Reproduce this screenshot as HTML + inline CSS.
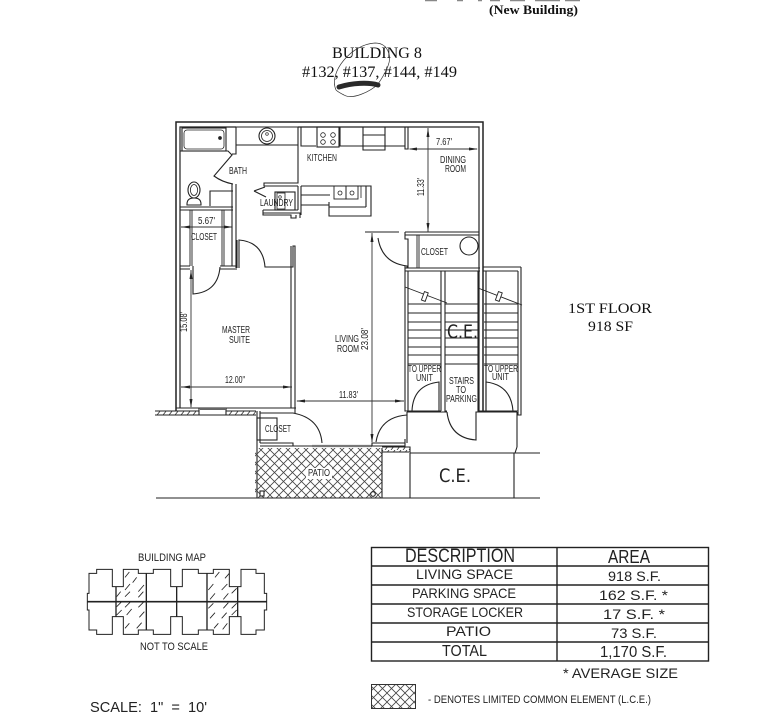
<!DOCTYPE html>
<html><head><meta charset="utf-8"><style>
html,body{margin:0;padding:0;background:#fff;width:777px;height:720px;overflow:hidden}
svg{display:block}
text{font-family:"Liberation Sans",sans-serif;fill:#222;font-size:10px}
.s{font-family:"Liberation Serif",serif;fill:#111}
.l{font-size:19px;font-family:"DejaVu Sans","Liberation Sans",sans-serif}
</style></head><body>
<svg width="777" height="720" viewBox="0 0 777 720" xmlns="http://www.w3.org/2000/svg">
<defs>
<pattern id="x" width="9" height="9" patternUnits="userSpaceOnUse"><path d="M0 0L9 9M9 0L0 9" stroke="#444" stroke-width=".8" fill="none"/></pattern>
<pattern id="h" width="6" height="5" patternUnits="userSpaceOnUse"><path d="M1 5L5 0" stroke="#333" stroke-width=".8"/></pattern>
</defs>
<rect width="777" height="720" fill="#fff"/>
<path d="M425 .6H437M457 .6H463M478 .6H482M490 .6H500M510 .6H525M535 .6H560M565 .6H580" stroke="#888" stroke-width="1.2"/>
<text class="s" x="489" y="14" font-weight="700" style="font-size:13px" textLength="89" lengthAdjust="spacingAndGlyphs">(New Building)</text>
<text class="s" x="332" y="58" style="font-size:16px" textLength="90" lengthAdjust="spacingAndGlyphs">BUILDING 8</text>
<text class="s" x="302" y="77" style="font-size:16px" textLength="155" lengthAdjust="spacingAndGlyphs">#132, #137, #144, #149</text>
<path d="M336 90C328 72 352 44 375 43C388 43 392 56 388 66C385 74 382 78 378 84C370 92 352 100 344 95C340 93 338 92 336 90" fill="none" stroke="#333" stroke-width=".7"/>
<path d="M339 87C352 83 368 82 378 85" fill="none" stroke="#2a2a2a" stroke-width="5" stroke-linecap="round"/>

<g fill="none" stroke="#222" stroke-width="1.1">
<!-- outer walls -->
<path d="M176 411V122H483V411" stroke-width="1.5"/>
<path d="M180 408V127H236M298 127H479V411" stroke-width="1.2"/>
<path d="M176 408H296"/>
<!-- tub -->
<rect x="182" y="128" width="44" height="23"/><rect x="184" y="130" width="40" height="19" rx="3" stroke-width=".8"/>
<circle cx="220" cy="138" r="1.3" fill="#222"/>
<!-- bath -->
<path d="M180 151H228L232 155L214 176Q222 182 233 184"/>
<path d="M236 127V154H232M298 127V183H264V186H298"/>
<path d="M301 127V146H316M236 145H298M236 127H298"/>
<circle cx="267" cy="136" r="8"/><circle cx="267" cy="136" r="5.5" stroke-width=".8"/><circle cx="267" cy="134" r="1.3" stroke-width=".7"/>
<!-- toilet -->
<ellipse cx="194" cy="190" rx="6" ry="8"/><ellipse cx="194" cy="190" rx="3.6" ry="5.5" stroke-width=".8"/><path d="M187 204Q187 198 194 198Q201 198 201 204V205H187Z"/>
<path d="M210 206V191H233"/>
<!-- partition -->
<path d="M232 184V266M236 184V268"/>
<path d="M180 207H233M180 210H233"/>
<path d="M180 266H190M220 266H237M180 269H190M220 269H237"/>
<path d="M190 210V266M192 210V266M222 210V266M224 210V266" stroke-width=".9"/>
<path d="M193 266V294Q218 292 220 267"/>
<!-- laundry -->
<path d="M254 191L265 187M254 191L266 197"/>
<rect x="275" y="192" width="20" height="18"/><rect x="277" y="193" width="8" height="16" stroke-width=".8"/><circle cx="280" cy="197" r="1.3" stroke-width=".7"/>
<path d="M263 213H300V218M263 210H298M263 210V215H291V218H296V215"/>
<path d="M298 186V210M301 186V215"/>
<!-- kitchen -->
<rect x="317" y="127" width="22" height="20"/>
<circle cx="323" cy="135" r="2.3" stroke-width=".8"/><circle cx="333" cy="135" r="2.3" stroke-width=".8"/><circle cx="323" cy="142" r="2.3" stroke-width=".8"/><circle cx="333" cy="142" r="2.3" stroke-width=".8"/>
<path d="M340 127V146H363M363 127V150H385V127M363 135H385M363 146H385M385 146H405"/>
<path d="M405 127V149H408V127"/>
<!-- counter -->
<path d="M301 186H371V216H329V202M301 195H330M301 205H329M329 207H366M366 186V207"/>
<rect x="334" y="186" width="12" height="13" stroke-width=".9"/><rect x="346" y="186" width="12" height="13" stroke-width=".9"/><circle cx="340" cy="193" r="2" stroke-width=".8"/><circle cx="352" cy="193" r="2" stroke-width=".8"/>
<path d="M361 186V198" stroke-width=".8"/>
<!-- dining/closet -->
<path d="M405 232H479M405 235H479M405 235V239H408V268M405 239V232"/>
<path d="M417 235V268M419 235V268" stroke-width=".9"/>
<circle cx="469" cy="246" r="9"/>
<path d="M378 238Q382 263 407 266V268"/>
<path d="M365 232H399" stroke-width=".9"/>
<path d="M405 268H480M405 271H480"/>
<!-- stair block -->
<path d="M405 266V411H408V271M441 271V411M445 271V411H447M478 271V411H482M486 271V411M521 267V415H518V271M483 267H521M483 271H518"/>
<path d="M408 304H441M445 304H478M484 304H518M408 313H441M445 313H478M484 313H518M408 322H441M445 322H478M484 322H518M408 330H441M445 330H478M484 330H518M408 338H441M445 338H478M484 338H518M408 347H441M445 347H478M484 347H518M408 355H441M445 355H478M484 355H518M408 364H441M445 364H478M484 364H518"/>
<path d="M405 287L447 303M478 288L522 305" stroke-width=".9"/>
<rect x="423" y="292" width="4" height="9" transform="rotate(20 425 296)" fill="#fff" stroke-width=".9"/>
<rect x="497" y="292" width="4" height="9" transform="rotate(20 499 296)" fill="#fff" stroke-width=".9"/>
<!-- stair doors -->
<path d="M412 411Q413 385 439 382V411M441 411H408M486 411V382Q511 385 513 411M518 411H482"/>
<path d="M447 412Q450 438 476 440V412H482"/>
<path d="M407 412H447M476 412H517M517 412V447M407 412V443M517 447L515 453"/>
<!-- master -->
<path d="M239 268V240Q263 242 265 267H293V246H295V413"/>
<path d="M291 246V408"/>
<path d="M237 240V268"/>
<!-- bottom wall -->
<path d="M155 415H199M226 415H256M155 411H199M226 411H256"/>
<path d="M199 408V415H226V408"/>
<rect x="155" y="411" width="44" height="4" fill="url(#h)" stroke="none"/><rect x="226" y="411" width="30" height="4" fill="url(#h)" stroke="none"/>
<path d="M200 409H226" stroke="#666" stroke-width="2"/>
<path d="M257 411V498M260 411V443"/>
<path d="M260 413H293Q320 418 322 443"/>
<rect x="257" y="418" width="20" height="22"/>
<path d="M260 443H293V446H322M260 446H293"/>
<path d="M312 446H372" stroke="#777" stroke-width="2.2"/>
<path d="M372 443H405V446H372ZM405 443V439"/>
<path d="M376 442Q380 417 407 415"/>
<!-- patio -->
<rect x="255" y="448" width="127" height="50" fill="url(#x)" stroke="none"/>
<rect x="382" y="447" width="28" height="5" fill="url(#h)" stroke="none"/>
<path d="M382 447H410V452H382M382 448V498"/>
<circle cx="373" cy="494" r="2.3" fill="#fff"/>
<rect x="260" y="491" width="4" height="5" fill="#fff"/>
<!-- CE -->
<path d="M156 498H540M410 453H540M410 453V498M514 453V498"/>
</g>
<!-- dims -->
<g fill="none" stroke="#333" stroke-width=".9">
<path d="M410 149H477M428 128V232M181 227H232M191 270V407M181 387H292M297 401H404M372 233V442"/>
</g>
<g fill="#222">
<path d="M408 149l9-1.5v3zM478 149l-9-1.5v3zM428 128l-1.5 9h3zM428 232l-1.5-9h3zM181 227l9-1.5v3zM233 227l-9-1.5v3zM191 270l-1.5 9h3zM191 408l-1.5-9h3zM181 387l9-1.5v3zM292 387l-9-1.5v3zM296 401l9-1.5v3zM404 401l-9-1.5v3zM372 233l-1.5 9h3zM372 443l-1.5-9h3z"/>
</g>
<!-- labels -->
<g>
<text x="307" y="161" textLength="30" lengthAdjust="spacingAndGlyphs">KITCHEN</text>
<text x="229" y="174" textLength="18" lengthAdjust="spacingAndGlyphs">BATH</text>
<text x="260" y="206" textLength="33" lengthAdjust="spacingAndGlyphs">LAUNDRY</text>
<text x="198" y="224" textLength="17" lengthAdjust="spacingAndGlyphs">5.67'</text>
<text x="191" y="240" textLength="26" lengthAdjust="spacingAndGlyphs">CLOSET</text>
<text x="436" y="145" textLength="16" lengthAdjust="spacingAndGlyphs">7.67'</text>
<text x="440" y="163" textLength="26" lengthAdjust="spacingAndGlyphs">DINING</text>
<text x="445" y="172" textLength="21" lengthAdjust="spacingAndGlyphs">ROOM</text>
<text transform="translate(424 196) rotate(-90)" textLength="18" lengthAdjust="spacingAndGlyphs">11.33'</text>
<text x="421" y="255" textLength="27" lengthAdjust="spacingAndGlyphs">CLOSET</text>
<text transform="translate(187 332) rotate(-90)" textLength="20" lengthAdjust="spacingAndGlyphs">15.08'</text>
<text x="222" y="333" textLength="28" lengthAdjust="spacingAndGlyphs">MASTER</text>
<text x="229" y="343" textLength="21" lengthAdjust="spacingAndGlyphs">SUITE</text>
<text x="225" y="383" textLength="20" lengthAdjust="spacingAndGlyphs">12.00"</text>
<text x="335" y="342" textLength="24" lengthAdjust="spacingAndGlyphs">LIVING</text>
<text x="337" y="352" textLength="22" lengthAdjust="spacingAndGlyphs">ROOM</text>
<text transform="translate(368 350) rotate(-90)" textLength="22" lengthAdjust="spacingAndGlyphs">23.08'</text>
<text x="339" y="398" textLength="19" lengthAdjust="spacingAndGlyphs">11.83'</text>
<text x="265" y="432" textLength="26" lengthAdjust="spacingAndGlyphs">CLOSET</text>
<rect x="306" y="468" width="26" height="11" fill="#fff"/>
<text x="308" y="476" textLength="22" lengthAdjust="spacingAndGlyphs">PATIO</text>
<text class="l" x="447" y="338" textLength="31" lengthAdjust="spacingAndGlyphs">C.E.</text>
<text class="l" x="439" y="482" textLength="32" lengthAdjust="spacingAndGlyphs">C.E.</text>
<text x="408" y="372" textLength="33" lengthAdjust="spacingAndGlyphs">TO UPPER</text>
<text x="416" y="381" textLength="17" lengthAdjust="spacingAndGlyphs">UNIT</text>
<text x="484" y="372" textLength="34" lengthAdjust="spacingAndGlyphs">TO UPPER</text>
<text x="492" y="380" textLength="17" lengthAdjust="spacingAndGlyphs">UNIT</text>
<text x="449" y="384" textLength="25" lengthAdjust="spacingAndGlyphs">STAIRS</text>
<text x="456" y="393" textLength="10" lengthAdjust="spacingAndGlyphs">TO</text>
<text x="446" y="402" textLength="31" lengthAdjust="spacingAndGlyphs">PARKING</text>
<text class="s" x="568" y="313" style="font-size:15px" textLength="84" lengthAdjust="spacingAndGlyphs">1ST FLOOR</text>
<text class="s" x="588" y="331" style="font-size:15px" textLength="45" lengthAdjust="spacingAndGlyphs">918 SF</text>
</g>
<!-- Building map -->
<g transform="translate(70 540) scale(.33333)" fill="none" stroke="#222" stroke-width="3">
<path d="M57 100H80V88H127V140H160V88H205V100H250V88H302V140H337V88H385V100H430V88H478V140H513V88H558V100H583V160H590V210H583V270H558V283H513V230H478V283H430V270H385V283H337V230H302V283H250V270H205V283H160V230H127V283H80V270H57V210H52V160H57Z"/>
<path d="M138 140V230M229 100V270M320 140V230M411 100V270M503 140V230" stroke-width="4"/>
<path d="M52 185H590" stroke-width="5"/>
<path stroke-width="2.5" d="M165 112L178 96M200 112L188 128M165 150L180 132M205 155L222 135M165 170L180 155M205 172L220 155M140 170L152 155M140 200L155 185M165 202L180 187M205 202L222 185M140 225L155 210M170 225L185 207M208 232L223 215M165 265L178 250M200 265L215 248M435 112L448 96M465 115L478 100M415 150L430 132M455 150L472 132M485 160L500 145M420 178L435 160M460 178L475 160M415 205L430 190M460 205L475 188M485 205L500 190M420 235L435 218M455 235L470 218M485 225L500 210M432 265L445 250M458 268L472 250"/>
</g>
<text x="138" y="561" style="font-size:11px" textLength="68" lengthAdjust="spacingAndGlyphs">BUILDING MAP</text>
<text x="140" y="650" style="font-size:11px" textLength="68" lengthAdjust="spacingAndGlyphs">NOT TO SCALE</text>
<text x="90" y="712" style="font-size:15px;white-space:pre" textLength="117" lengthAdjust="spacingAndGlyphs">SCALE:  1"  =  10'</text>
<!-- table -->
<g fill="none" stroke="#222" stroke-width="1.4">
<rect x="371.5" y="547.5" width="337" height="113.5"/>
<path d="M371 566H709M371 585H709M371 604H709M371 623H709M371 642H709M557 547V661"/>
</g>
<g>
<text x="405" y="562" style="font-size:19px" textLength="110" lengthAdjust="spacingAndGlyphs">DESCRIPTION</text>
<text x="608" y="563" style="font-size:18px" textLength="42" lengthAdjust="spacingAndGlyphs">AREA</text>
<text x="416" y="579" style="font-size:14px" textLength="97" lengthAdjust="spacingAndGlyphs">LIVING SPACE</text>
<text x="608" y="581" style="font-size:14px" textLength="53" lengthAdjust="spacingAndGlyphs">918 S.F.</text>
<text x="412" y="598" style="font-size:14px" textLength="104" lengthAdjust="spacingAndGlyphs">PARKING SPACE</text>
<text x="599" y="600" style="font-size:14px" textLength="69" lengthAdjust="spacingAndGlyphs">162 S.F. *</text>
<text x="407" y="617" style="font-size:14px" textLength="116" lengthAdjust="spacingAndGlyphs">STORAGE LOCKER</text>
<text x="603" y="619" style="font-size:14px" textLength="62" lengthAdjust="spacingAndGlyphs">17 S.F. *</text>
<text x="446" y="636" style="font-size:14px" textLength="45" lengthAdjust="spacingAndGlyphs">PATIO</text>
<text x="611" y="638" style="font-size:14px" textLength="46" lengthAdjust="spacingAndGlyphs">73 S.F.</text>
<text x="442" y="656" style="font-size:16px" textLength="45" lengthAdjust="spacingAndGlyphs">TOTAL</text>
<text x="600" y="657" style="font-size:16px" textLength="67" lengthAdjust="spacingAndGlyphs">1,170 S.F.</text>
<text x="563" y="678" style="font-size:14px" textLength="115" lengthAdjust="spacingAndGlyphs">* AVERAGE SIZE</text>
<text x="428" y="703" style="font-size:11px" textLength="223" lengthAdjust="spacingAndGlyphs">- DENOTES LIMITED COMMON ELEMENT (L.C.E.)</text>
</g>
<rect x="371.5" y="684.5" width="44" height="24" fill="url(#x)" stroke="#333" stroke-width="1"/>
</svg>
</body></html>
